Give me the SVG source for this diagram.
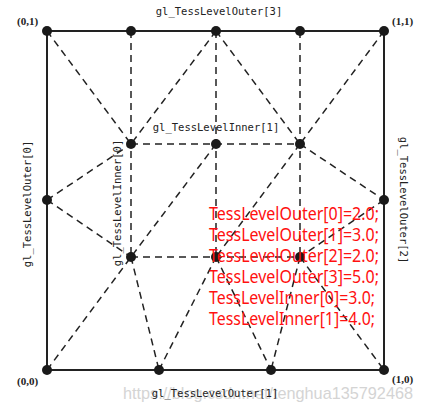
<svg xmlns="http://www.w3.org/2000/svg" width="422" height="410" viewBox="0 0 422 410">
<style>
.b{stroke:#222;stroke-width:2;fill:none}
.d{stroke:#222;stroke-width:1.5;fill:none;stroke-dasharray:7 5}
.n{fill:#1a1a1a}
.m{font-family:"DejaVu Sans Mono","Liberation Mono",monospace;font-size:10.5px;fill:#222}
.c{font-family:"Liberation Serif",serif;font-size:11px;fill:#222;font-weight:bold}
.r{font-family:"Noto Sans","Liberation Sans",sans-serif;font-size:18px;fill:#ff1010}
.w{font-family:"Liberation Sans",sans-serif;font-size:17px;fill:#d4d4d4}
</style>
<rect width="422" height="410" fill="#fff"/>
<text class="w" x="123" y="399" textLength="290" lengthAdjust="spacingAndGlyphs">https://blog.csdn.net/tenghua135792468</text>
<g id="connectors">
<rect class="b" x="47" y="31" width="337" height="339"/>
<path class="d" d="M131,31V257M216,31V257M300,31V257M131,144H300M131,257H300"/>
<path class="d" d="M47,31L131,144M216,31L131,144M216,31L300,144M384,31L300,144M47,200L131,144M47,200L131,257M216,144L131,257M300,144L216,257M300,144L384,200M384,200L300,257M47,370L131,257M131,257L159,370M159,370L216,257M216,257L271,370M300,257L271,370M300,257L384,370"/>
</g>
<g id="v00"><circle class="n" cx="47" cy="370" r="5"/></g>
<g id="v01"><circle class="n" cx="47" cy="31" r="5"/></g>
<g id="v11"><circle class="n" cx="384" cy="31" r="5"/></g>
<g id="v10"><circle class="n" cx="384" cy="370" r="5"/></g>
<g id="t1"><circle class="n" cx="131" cy="31" r="5"/></g>
<g id="t2"><circle class="n" cx="216" cy="31" r="5"/></g>
<g id="t3"><circle class="n" cx="300" cy="31" r="5"/></g>
<g id="l1"><circle class="n" cx="47" cy="200" r="5"/></g>
<g id="r1"><circle class="n" cx="384" cy="200" r="5"/></g>
<g id="b1"><circle class="n" cx="159" cy="370" r="5"/></g>
<g id="b2"><circle class="n" cx="271" cy="370" r="5"/></g>
<g id="i1"><circle class="n" cx="131" cy="144" r="5"/></g>
<g id="i2"><circle class="n" cx="216" cy="144" r="5"/></g>
<g id="i3"><circle class="n" cx="300" cy="144" r="5"/></g>
<g id="i4"><circle class="n" cx="131" cy="257" r="5"/></g>
<g id="i5"><circle class="n" cx="216" cy="257" r="5"/></g>
<g id="i6"><circle class="n" cx="300" cy="257" r="5"/></g>
<g id="labels">
<text class="m" x="219" y="15" text-anchor="middle">gl_TessLevelOuter[3]</text>
<text class="m" x="216" y="131" text-anchor="middle">gl_TessLevelInner[1]</text>
<text class="m" x="215" y="397" text-anchor="middle">gl_TessLevelOuter[1]</text>
<text class="m" transform="translate(31,204) rotate(-90)" text-anchor="middle">gl_TessLevelOuter[0]</text>
<text class="m" transform="translate(121,203) rotate(-90)" text-anchor="middle">gl_TessLevelInner[0]</text>
<text class="m" transform="translate(400,200) rotate(90)" text-anchor="middle">gl_TessLevelOuter[2]</text>
<text class="c" x="17" y="25">(0,1)</text>
<text class="c" x="392" y="25">(1,1)</text>
<text class="c" x="17" y="385">(0,0)</text>
<text class="c" x="392" y="383">(1,0)</text>
</g>
<g id="code">
<text class="r" x="209" y="220" textLength="170" lengthAdjust="spacingAndGlyphs">TessLevelOuter[0]=2.0;</text>
<text class="r" x="209" y="241" textLength="170" lengthAdjust="spacingAndGlyphs">TessLevelOuter[1]=3.0;</text>
<text class="r" x="209" y="262" textLength="170" lengthAdjust="spacingAndGlyphs">TessLevelOuter[2]=2.0;</text>
<text class="r" x="209" y="283" textLength="170" lengthAdjust="spacingAndGlyphs">TessLevelOuter[3]=5.0;</text>
<text class="r" x="209" y="304" textLength="166" lengthAdjust="spacingAndGlyphs">TessLevelInner[0]=3.0;</text>
<text class="r" x="209" y="325" textLength="166" lengthAdjust="spacingAndGlyphs">TessLevelInner[1]=4.0;</text>
</g>
</svg>
